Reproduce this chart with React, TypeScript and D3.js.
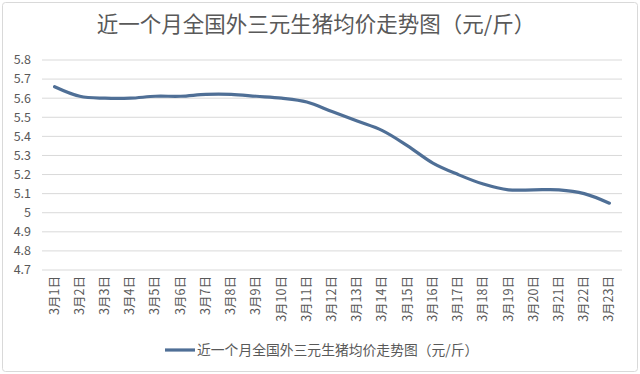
import * as d3 from "d3";

const title = "近一个月全国外三元生猪均价走势图（元/斤）";
const days = d3.range(1, 24).map((d) => `3月${d}日`);
const prices = [
  5.66, 5.61, 5.6, 5.6, 5.61, 5.61, 5.62, 5.62, 5.61, 5.6, 5.58, 5.53, 5.48,
  5.43, 5.35, 5.26, 5.2, 5.15, 5.12, 5.12, 5.12, 5.1, 5.05,
];
const yTicks = [4.7, 4.8, 4.9, 5, 5.1, 5.2, 5.3, 5.4, 5.5, 5.6, 5.7, 5.8];

const W = 640;
const H = 374;
const font = "'Noto Sans CJK SC', 'Noto Sans', sans-serif";
const lineColor = "#4f6f96";
const textColor = "#595959";

export default function App() {
  const x = d3.scaleBand<string>().domain(days).range([42, 622]);
  const y = d3.scaleLinear().domain([4.7, 5.8]).range([270, 60]);
  const line = d3
    .line<number>()
    .x((_, i) => (x(days[i]) ?? 0) + x.bandwidth() / 2)
    .y((d) => y(d))
    .curve(d3.curveCatmullRom.alpha(0.5));

  return (
    <svg
      width={W}
      height={H}
      style={{ position: "absolute", left: 0, top: 0, background: "#fff" }}
      fontFamily={font}
    >
      <rect x={2.5} y={2.5} width={W - 5} height={H - 5} fill="#fff" stroke="#d9d9d9" rx={3} />
      <text x={316} y={32} textAnchor="middle" fontSize={21.5} fill={textColor}>
        {title}
      </text>
      {yTicks.map((t) => (
        <g key={t}>
          <line x1={42} x2={622} y1={y(t)} y2={y(t)} stroke="#d9d9d9" strokeWidth={1} />
          <text x={31} y={y(t)} dy="0.35em" textAnchor="end" fontSize={12.5} fill={textColor}>
            {t}
          </text>
        </g>
      ))}
      {days.map((d) => {
        const cx = (x(d) ?? 0) + x.bandwidth() / 2;
        return (
          <text
            key={d}
            transform={`translate(${cx + 4},276) rotate(-90)`}
            textAnchor="end"
            fontSize={12.5}
            fill={textColor}
          >
            {d}
          </text>
        );
      })}
      <path d={line(prices) ?? ""} fill="none" stroke={lineColor} strokeWidth={3.2} strokeLinecap="round" />
      <line x1={165} x2={195} y1={350} y2={350} stroke={lineColor} strokeWidth={3.2} />
      <text x={197} y={350} dy="0.35em" fontSize={13.8} fill={textColor}>
        {title}
      </text>
    </svg>
  );
}
